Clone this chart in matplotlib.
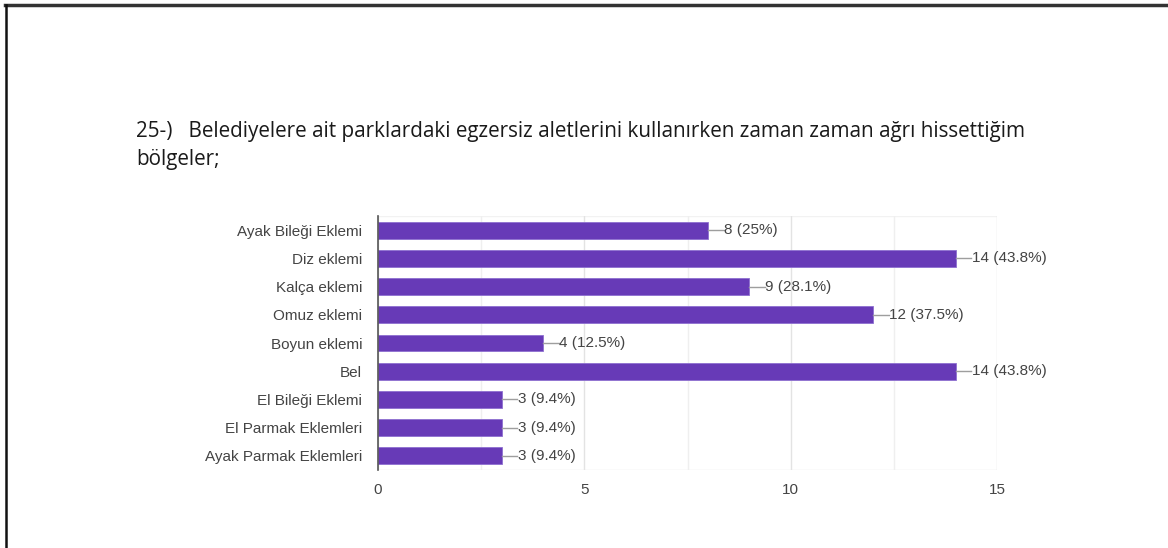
import matplotlib.pyplot as plt
from matplotlib.lines import Line2D

# ==========================================
# DATA
# ==========================================
regions = [
    "Ayak Bileği Eklemi",
    "Diz eklemi",
    "Kalça eklemi",
    "Omuz eklemi",
    "Boyun eklemi",
    "Bel",
    "El Bileği Eklemi",
    "El Parmak Eklemleri",
    "Ayak Parmak Eklemleri",
]
counts = [8, 14, 9, 12, 4, 14, 3, 3, 3]
percents = ["25%", "43.8%", "28.1%", "37.5%", "12.5%", "43.8%", "9.4%", "9.4%", "9.4%"]

TITLE_1 = "25-)   Belediyelere ait parklardaki egzersiz aletlerini kullanırken zaman zaman ağrı hissettiğim"
TITLE_2 = "bölgeler;"

BAR_COLOR = "#673ab7"
TEXT_COLOR = "#444444"
LABEL_SIZE = 11

# ==========================================
# PLOT
# ==========================================
fig = plt.figure(figsize=(11.68, 5.48), dpi=100)
ax = fig.add_axes([378 / 1168, 1 - 470 / 548, (997 - 378) / 1168, (470 - 216) / 548])

y_pos = list(range(len(regions)))
ax.barh(y_pos, counts, height=0.6, color=BAR_COLOR, edgecolor="#8e6fd0", linewidth=0.6, zorder=3)

for y, c, p in zip(y_pos, counts, percents):
    ax.plot([c, c + 0.38], [y, y], color="#9e9e9e", linewidth=1, zorder=3)
    ax.text(c + 0.39, y, f"{c} ({p})", va="center", ha="left",
            fontsize=LABEL_SIZE, color=TEXT_COLOR, family="Liberation Sans")

ax.set_xlim(0, 15)
ax.set_ylim(len(regions) - 0.5, -0.5)
ax.set_yticks(y_pos)
ax.set_yticklabels(regions, family="Liberation Sans", fontsize=LABEL_SIZE, color=TEXT_COLOR)
ax.set_xticks([0, 5, 10, 15])
ax.set_xticklabels(["0", "5", "10", "15"], family="Liberation Sans", fontsize=LABEL_SIZE, color=TEXT_COLOR)
ax.set_xticks([2.5, 7.5, 12.5], minor=True)
ax.tick_params(axis="both", which="both", length=0)
ax.tick_params(axis="x", pad=9)
ax.tick_params(axis="y", pad=11.5)

ax.grid(axis="x", which="major", color="#e3e3e3", linewidth=1, zorder=0)
ax.grid(axis="x", which="minor", color="#efefef", linewidth=1, zorder=0)
ax.axhline(len(regions) - 0.5, color="#e8e8e8", linewidth=1, zorder=0)
ax.axhline(-0.5, color="#f2f2f2", linewidth=1, zorder=0)

for side in ["top", "right", "bottom"]:
    ax.spines[side].set_visible(False)
ax.spines["left"].set_color("#555555")
ax.spines["left"].set_linewidth(1.2)
ax.spines["left"].set_zorder(4)

# question text above the chart
fig.text(136 / 1168, 1 - 131 / 548, TITLE_1, fontsize=14.9, family="Open Sans",
         color="#1a1a1a", va="center", ha="left")
fig.text(136 / 1168, 1 - 159 / 548, TITLE_2, fontsize=14.9, family="Open Sans",
         color="#1a1a1a", va="center", ha="left")

# page frame
fig.add_artist(Line2D([5 / 1168, 1], [1 - 4.5 / 548, 1 - 4.5 / 548], transform=fig.transFigure,
                      color="#333333", linewidth=2.5))
fig.add_artist(Line2D([6 / 1168, 6 / 1168], [0, 1 - 4.5 / 548], transform=fig.transFigure,
                      color="#111111", linewidth=1.8))

fig.savefig("out.png", dpi=100)
